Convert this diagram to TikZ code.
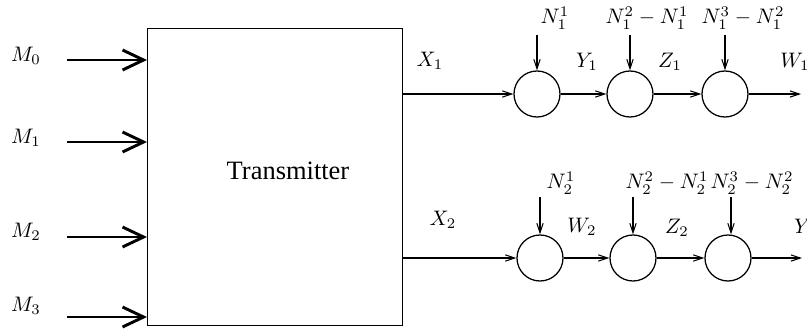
\documentclass[tikz,border=0pt]{standalone}
\usepackage{fontspec}
\newfontfamily\timesfont{Liberation Serif}
\usetikzlibrary{arrows.meta}
\begin{document}
\begin{tikzpicture}[x=0.476pt,y=-0.476pt,
  lbl/.style={inner sep=0pt,font=\normalsize},
  bigarrow/.style={line width=1.4pt,-{Straight Barb[length=10pt,width=9.5pt]}},
  sarrow/.style={line width=0.5pt,-{Straight Barb[length=4.5pt,width=3pt]}},
  adder/.style={draw,circle,line width=0.6pt,inner sep=0pt,minimum size=21.9pt}]
\useasboundingbox (0,0) rectangle (807,334);
% transmitter box
\node[draw,line width=0.6pt,minimum width=121.4pt,minimum height=141.4pt,inner sep=0pt,anchor=north west] (tx) at (147,28) {};
\node[lbl,font=\fontsize{12.6}{14}\timesfont] (txl) at (288,171) {Transmitter};
% inputs
\foreach \i/\y/\ly in {0/60/56,1/142/138,2/237/232,3/317/306}{
  \coordinate (s\i) at (67,\y);
  \coordinate (e\i) at (147,\y);
  \draw[bigarrow] (s\i) -- (e\i);
  \node[lbl] (m\i) at (26,\ly) {$M_{\i}$};
}
% top chain
\node[adder] (c11) at (537,94) {};
\node[adder] (c12) at (630,94) {};
\node[adder] (c13) at (725,94) {};
\coordinate (x1s) at (402,94);
\coordinate (w1e) at (801,94);
\draw[sarrow] (x1s) -- (c11);
\draw[sarrow] (c11) -- (c12);
\draw[sarrow] (c12) -- (c13);
\draw[sarrow] (c13) -- (w1e);
\coordinate (n11) at (537,35);
\coordinate (n12) at (630,35);
\coordinate (n13) at (725,35);
\draw[sarrow] (n11) -- (c11);
\draw[sarrow] (n12) -- (c12);
\draw[sarrow] (n13) -- (c13);
\node[lbl] (ln11) at (555,18) {$N_1^1$};
\node[lbl] (ln12) at (647,18) {$N_1^2-N_1^1$};
\node[lbl] (ln13) at (743,18) {$N_1^3-N_1^2$};
\node[lbl] (lx1) at (430,61) {$X_1$};
\node[lbl] (ly1) at (587,62) {$Y_1$};
\node[lbl] (lz1) at (670,62) {$Z_1$};
\node[lbl] (lw1) at (795,62) {$W_1$};
% bottom chain
\node[adder] (c21) at (540,258) {};
\node[adder] (c22) at (633,258) {};
\node[adder] (c23) at (728,258) {};
\coordinate (x2s) at (402,258);
\coordinate (y2e) at (802,258);
\draw[sarrow] (x2s) -- (c21);
\draw[sarrow] (c21) -- (c22);
\draw[sarrow] (c22) -- (c23);
\draw[sarrow] (c23) -- (y2e);
\coordinate (n21) at (540,197);
\coordinate (n22) at (633,197);
\coordinate (n23) at (731,197);
\draw[sarrow] (n21) -- (c21);
\draw[sarrow] (n22) -- (c22);
\draw[sarrow] (n23) -- (n23 |- c23.north);
\node[lbl] (ln21) at (561,183) {$N_2^1$};
\node[lbl] (ln22) at (667,183) {$N_2^2-N_2^1$};
\node[lbl] (ln23) at (752,183) {$N_2^3-N_2^2$};
\node[lbl] (lx2) at (443,220) {$X_2$};
\node[lbl] (lw2) at (582,227) {$W_2$};
\node[lbl] (lz2) at (677,228) {$Z_2$};
\node[lbl] (ly2) at (805,228) {$Y_2$};
\end{tikzpicture}
\end{document}
